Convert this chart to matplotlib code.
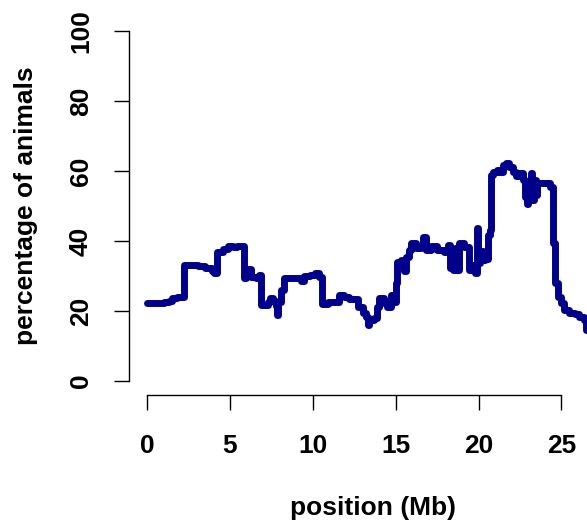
import matplotlib.pyplot as plt
import numpy as np

plt.rcParams['font.family'] = ['Liberation Sans', 'DejaVu Sans']
plt.rcParams['font.weight'] = 'bold'

# start of each step (Mb) and percentage of animals from there on
position = [0.0, 1.0, 1.3, 1.5, 1.8, 2.2, 3.1, 3.5, 3.9, 4.05, 4.2, 4.25, 4.6, 4.9,
            5.2, 5.45, 5.85, 5.95, 6.3, 6.6, 6.75, 6.9, 7.3, 7.4, 7.6, 7.75, 7.85,
            7.9, 8.1, 8.25, 8.6, 9.0, 9.3, 9.45, 9.8, 10.15, 10.4, 10.58, 10.9,
            11.2, 11.6, 11.9, 12.2, 12.7, 13.0, 13.2, 13.3, 13.4, 13.7, 13.85,
            14.0, 14.3, 14.5, 14.7, 14.9, 15.0, 15.1, 15.3, 15.5, 15.6, 15.8,
            15.95, 16.2, 16.5, 16.65, 16.8, 17.1, 17.5, 17.9, 18.15, 18.25,
            18.45, 18.55, 18.62, 18.8, 19.1, 19.4, 19.6, 19.8, 19.9, 19.97, 20.1,
            20.25, 20.4, 20.55, 20.7, 20.75, 20.85, 21.1, 21.3, 21.45, 21.65,
            21.85, 22.05, 22.25, 22.5, 22.7, 22.8, 22.9, 23.0, 23.15, 23.25,
            23.35, 23.45, 23.55, 24.3, 24.5, 24.6, 24.8, 24.95, 25.15, 25.45,
            25.8, 26.05, 26.35, 26.45, 26.8, 27.2]
percent = [22.3, 22.6, 23.0, 23.7, 24.0, 33.1, 32.8, 32.4, 31.5, 31.0, 32.5, 36.9,
           37.6, 38.6, 38.3, 38.6, 29.3, 31.9, 29.8, 29.3, 30.2, 21.7, 22.5, 23.6,
           23.0, 21.5, 18.9, 22.7, 26.0, 29.3, 29.5, 29.3, 28.6, 30.0, 30.4, 30.8,
           29.8, 22.0, 22.7, 22.5, 24.5, 24.0, 23.4, 21.2, 19.3, 18.4, 16.0, 17.5,
           17.9, 21.2, 23.6, 22.2, 21.2, 24.5, 22.7, 27.9, 34.1, 34.5, 31.5, 35.5,
           37.4, 39.3, 38.0, 38.4, 41.2, 37.4, 38.6, 37.4, 36.9, 38.9, 32.2, 31.7,
           38.0, 31.7, 39.5, 38.4, 31.7, 33.1, 30.9, 43.6, 33.8, 37.2, 34.5, 35.0,
           41.7, 43.0, 58.9, 59.8, 60.3, 59.8, 61.7, 62.2, 61.1, 59.8, 58.6, 59.3,
           57.4, 52.7, 50.7, 54.4, 59.3, 51.7, 57.4, 53.0, 56.5, 55.5, 39.3, 27.9,
           24.0, 22.3, 20.3, 19.4, 19.2, 18.4, 17.5, 14.6, 14.0, 14.0]

x_ticks = [0, 5, 10, 15, 20, 25]
y_ticks = [0, 20, 40, 60, 80, 100]

W, H = 587, 524
fig = plt.figure(figsize=(W / 100, H / 100), dpi=100)
# plot region runs past the right edge of the picture, like the original
ax = fig.add_axes([129 / W, (H - 395) / H, 487 / W, 378 / H])

ax.plot(position, percent, drawstyle='steps-post', color='#00008B', lw=5,
        solid_capstyle='round', solid_joinstyle='round', clip_on=False)

xmax = max(position)
ax.set_xlim(-0.04 * xmax, 1.04 * xmax)
ax.set_ylim(-4, 104)

for s in ['top', 'right']:
    ax.spines[s].set_visible(False)
ax.spines['left'].set_bounds(0, 100)
ax.spines['bottom'].set_bounds(0, 25)
for s in ['left', 'bottom']:
    ax.spines[s].set_linewidth(1)

fs = 19
ax.set_xticks(x_ticks)
ax.set_yticks(y_ticks)
ax.tick_params(axis='both', length=11, width=1, labelsize=fs)
ax.tick_params(axis='x', pad=17)
ax.tick_params(axis='y', pad=15, labelrotation=90)
for lab in ax.get_yticklabels():
    lab.set_va('center')

ax.set_xlabel('position (Mb)', fontsize=fs, fontweight='bold', va='center')
ax.xaxis.set_label_coords(0.5, -0.299)
ax.set_ylabel('percentage of animals', fontsize=fs, fontweight='bold', va='center')
ax.yaxis.set_label_coords(-0.211, 0.5)

fig.savefig('out.png', dpi=100)
